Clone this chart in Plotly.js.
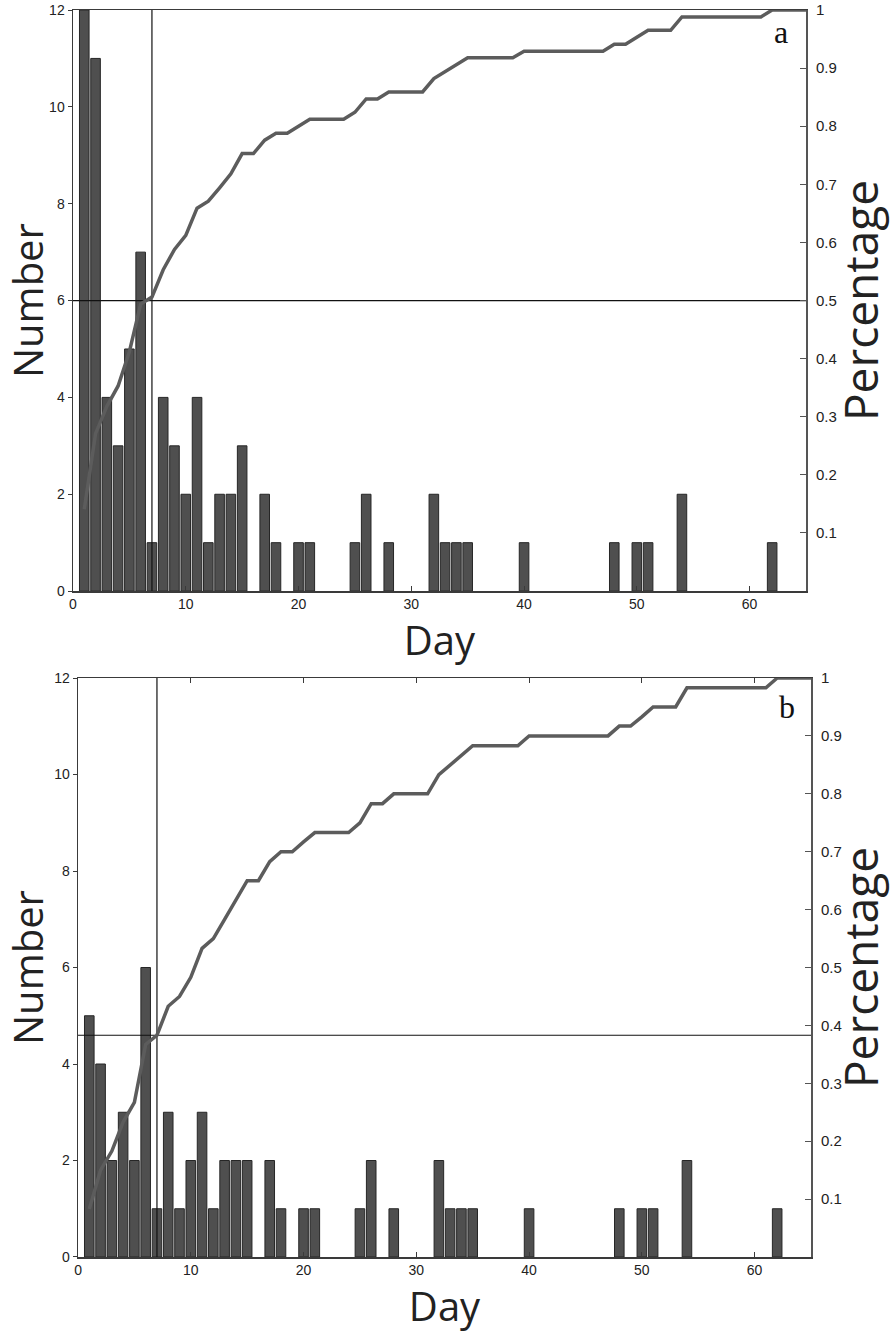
<!DOCTYPE html>
<html>
<head>
<meta charset="utf-8">
<script src="https://cdn.plot.ly/plotly-3.0.1.min.js"></script>
<style>html,body{margin:0;padding:0;background:#fff;}#chart{width:891px;height:1334px;}</style>
</head>
<body>
<div id="chart"></div>
<script>
// Days 1..65
const days = [1,2,3,4,5,6,7,8,9,10,11,12,13,14,15,16,17,18,19,20,21,22,23,24,25,26,27,28,29,30,31,32,33,34,35,36,37,38,39,40,41,42,43,44,45,46,47,48,49,50,51,52,53,54,55,56,57,58,59,60,61,62,63,64,65];

// Panel a: daily numbers
const countsA = [12,11,4,3,5,7,1,4,3,2,4,1,2,2,3,0,2,1,0,1,1,0,0,0,1,2,0,1,0,0,0,2,1,1,1,0,0,0,0,1,0,0,0,0,0,0,0,1,0,1,1,0,0,2,0,0,0,0,0,0,0,1,0,0,0];
// Panel a: cumulative percentage
const pctA = [0.141,0.271,0.318,0.353,0.412,0.494,0.506,0.553,0.588,0.612,0.659,0.671,0.694,0.718,0.753,0.753,0.776,0.788,0.788,0.800,0.812,0.812,0.812,0.812,0.824,0.847,0.847,0.859,0.859,0.859,0.859,0.882,0.894,0.906,0.918,0.918,0.918,0.918,0.918,0.929,0.929,0.929,0.929,0.929,0.929,0.929,0.929,0.941,0.941,0.953,0.965,0.965,0.965,0.988,0.988,0.988,0.988,0.988,0.988,0.988,0.988,1,1,1,1];

// Panel b: daily numbers
const countsB = [5,4,2,3,2,6,1,3,1,2,3,1,2,2,2,0,2,1,0,1,1,0,0,0,1,2,0,1,0,0,0,2,1,1,1,0,0,0,0,1,0,0,0,0,0,0,0,1,0,1,1,0,0,2,0,0,0,0,0,0,0,1,0,0,0];
// Panel b: cumulative percentage
const pctB = [0.083,0.150,0.183,0.233,0.267,0.367,0.383,0.433,0.450,0.483,0.533,0.550,0.583,0.617,0.650,0.650,0.683,0.700,0.700,0.717,0.733,0.733,0.733,0.733,0.750,0.783,0.783,0.800,0.800,0.800,0.800,0.833,0.850,0.867,0.883,0.883,0.883,0.883,0.883,0.900,0.900,0.900,0.900,0.900,0.900,0.900,0.900,0.917,0.917,0.933,0.950,0.950,0.950,0.983,0.983,0.983,0.983,0.983,0.983,0.983,0.983,1,1,1,1];

// Median markers
const medianDayA = 7, medianPctA = 0.5;
const medianDayB = 7, medianPctB = 0.383;
const panelLabels = ['a', 'b'];

// Axis ticks
const xTicks = [0,10,20,30,40,50,60];
const yTicks = [0,2,4,6,8,10,12];
const pTicks = [0.1,0.2,0.3,0.4,0.5,0.6,0.7,0.8,0.9,1];
const pTickText = ['0.1','0.2','0.3','0.4','0.5','0.6','0.7','0.8','0.9','1'];
const xRange = [0,65], yRange = [0,12], pRange = [0,1];

function barMarker(counts) {
  return {color:'#4f4f4f', line:{color:'#262626', width:counts.map(c => c > 0 ? 1 : 0)}};
}
const curveStyle = {color:'#5c5c5c', width:3.5};
const refLine = {color:'#111', width:1.2};

const traces = [
  {type:'bar', x:days, y:countsA, xaxis:'x', yaxis:'y', width:0.85, marker:barMarker(countsA), showlegend:false},
  {type:'scatter', mode:'lines', x:[medianDayA, medianDayA], y:yRange, xaxis:'x', yaxis:'y', line:refLine, showlegend:false},
  {type:'scatter', mode:'lines', x:xRange, y:[medianPctA, medianPctA], xaxis:'x', yaxis:'y2', line:refLine, showlegend:false},
  {type:'scatter', mode:'lines', x:days, y:pctA, xaxis:'x', yaxis:'y2', line:curveStyle, showlegend:false},

  {type:'bar', x:days, y:countsB, xaxis:'x2', yaxis:'y3', width:0.85, marker:barMarker(countsB), showlegend:false},
  {type:'scatter', mode:'lines', x:[medianDayB, medianDayB], y:yRange, xaxis:'x2', yaxis:'y3', line:refLine, showlegend:false},
  {type:'scatter', mode:'lines', x:xRange, y:[medianPctB, medianPctB], xaxis:'x2', yaxis:'y4', line:refLine, showlegend:false},
  {type:'scatter', mode:'lines', x:days, y:pctB, xaxis:'x2', yaxis:'y4', line:curveStyle, showlegend:false}
];

const tickFont = {family:'Liberation Sans, Arial, sans-serif', size:14, color:'#222'};
const rTickFont = {family:'Liberation Sans, Arial, sans-serif', size:15, color:'#222'};
const titleFont = {family:'Open Sans, sans-serif', size:40, color:'#222'};
const pTitleFont = {family:'Open Sans, sans-serif', size:46, color:'#222'};
const axisLine = '#3a3a3a';

function xAxis(domain, anchor, mirror) {
  return {domain:domain, anchor:anchor, range:xRange, tickvals:xTicks, ticks:'inside', ticklen:5,
    tickcolor:axisLine, showline:true, linecolor:axisLine, linewidth:1.5, mirror:mirror,
    showgrid:false, zeroline:false, tickfont:tickFont, fixedrange:true,
    title:{text:'Day', font:titleFont, standoff:2}};
}
function yLeft(domain, anchor) {
  return {domain:domain, anchor:anchor, range:yRange, tickvals:yTicks, ticks:'outside', ticklen:4,
    tickcolor:axisLine, showline:true, linecolor:axisLine, linewidth:1.5,
    showgrid:false, zeroline:false, tickfont:tickFont, fixedrange:true,
    title:{text:'Number', font:titleFont, standoff:8}};
}
function yRight(overlay, anchor) {
  return {overlaying:overlay, anchor:anchor, side:'right', range:pRange, tickvals:pTicks, ticktext:pTickText,
    ticks:'inside', ticklen:6, tickcolor:'#555', showline:true, linecolor:'#555', linewidth:2,
    ticklabelstandoff:5,
    showgrid:false, zeroline:false, tickfont:rTickFont, fixedrange:true,
    title:{text:'Percentage', font:pTitleFont, standoff:6}};
}

const labelFont = {family:'Liberation Serif, Times New Roman, serif', size:32, color:'#111'};
const layout = {
  width:891, height:1334,
  margin:{l:73, r:80, t:10, b:77},
  paper_bgcolor:'#fff', plot_bgcolor:'#fff',
  xaxis: xAxis([0, 0.9932], 'y', true),
  yaxis: yLeft([0.534, 1], 'x'),
  yaxis2: yRight('y', 'x'),
  xaxis2: xAxis([0.0068, 1], 'y3', 'ticks'),
  yaxis3: yLeft([0, 0.4643], 'x2'),
  yaxis4: yRight('y3', 'x2'),
  bargap:0,
  annotations:[
    {text:panelLabels[0], xref:'x domain', yref:'y domain', x:0.966, y:0.962, xanchor:'center', yanchor:'middle',
     showarrow:false, font:labelFont},
    {text:panelLabels[1], xref:'x2 domain', yref:'y3 domain', x:0.967, y:0.95, xanchor:'center', yanchor:'middle',
     showarrow:false, font:labelFont}
  ]
};

Plotly.newPlot('chart', traces, layout, {staticPlot:true, displayModeBar:false});
</script>
</body>
</html>
